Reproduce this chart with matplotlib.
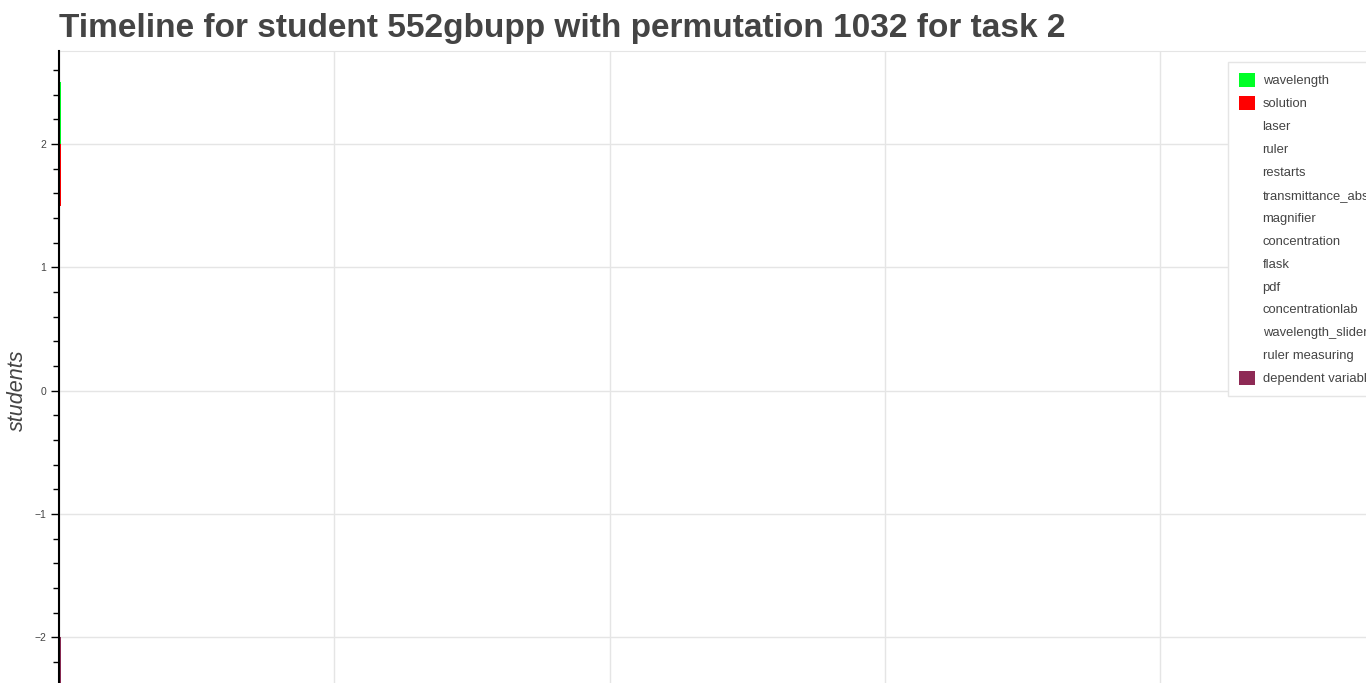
import matplotlib.pyplot as plt
from matplotlib.patches import Patch
from matplotlib.ticker import MultipleLocator

# --- data ---
bar_labels = ["wavelength", "solution", "dependent variable"]
bar_student = [2.25, 1.75, -2.25]      # y centre of each bar
bar_start = [0.0, 0.0, 0.0]
bar_length = [0.006, 0.006, 0.006]
bar_height = [0.5, 0.5, 0.5]

legend_labels = ["wavelength", "solution", "laser", "ruler", "restarts",
                 "transmittance_absorbance", "magnifier", "concentration",
                 "flask", "pdf", "concentrationlab", "wavelength_slider",
                 "ruler measuring", "dependent variable"]
legend_colors = ["#00ff26", "#ff0000", "white", "white", "white", "white",
                 "white", "white", "white", "white", "white", "white",
                 "white", "#8e2a55"]
color_of = dict(zip(legend_labels, legend_colors))

plt.rcParams['font.family'] = ['Liberation Sans', 'DejaVu Sans']

W, H = 1366, 683
fig = plt.figure(figsize=(W / 100, H / 100), dpi=100)

# axes run past the right and bottom edge, like the cropped original
px_unit_y = 123.3
px_unit_x = 275.3
y_top, y_bot = 2.754, -2.6
left_px, top_px = 59, 51
height_px = (y_top - y_bot) * px_unit_y
ax = fig.add_axes([left_px / W, (H - top_px - height_px) / H,
                   5 * px_unit_x / W, height_px / H])

for lab, y, x0, w, h in zip(bar_labels, bar_student, bar_start, bar_length, bar_height):
    ax.barh(y, w, left=x0, height=h, color=color_of[lab], edgecolor='none', zorder=3)

ax.set_xlim(0, 5)
ax.set_ylim(y_bot, y_top)
ax.yaxis.set_major_locator(MultipleLocator(1))
ax.yaxis.set_minor_locator(MultipleLocator(0.2))
ax.xaxis.set_major_locator(MultipleLocator(1))
ax.tick_params(axis='y', which='major', length=6, width=1, labelsize=7.5,
               labelcolor='#444444', pad=3)
ax.tick_params(axis='y', which='minor', length=4, width=1)
ax.tick_params(axis='x', which='both', length=0, labelbottom=False)
ax.grid(True, color='#e5e5e5', linewidth=1, zorder=0)

for side in ['right', 'bottom']:
    ax.spines[side].set_visible(False)
ax.spines['top'].set_color('#e5e5e5')
ax.spines['left'].set_color('black')
ax.spines['left'].set_linewidth(1.5)
ax.spines['left'].set_zorder(4)

# y axis label placed by hand
fig.text(17 / W, 1 - 390 / H, 'students', rotation=90, fontsize=15.5, style='italic',
         color='#444444', ha='center', va='center')

fig.text(left_px / W, 1 - 28 / H, 'Timeline for student 552gbupp with permutation 1032 for task 2',
         fontsize=24, fontweight='bold', color='#444444', va='center', ha='left')

handles = [Patch(facecolor=c, edgecolor='none') for c in legend_colors]
leg = ax.legend(handles, legend_labels, loc='upper left',
                bbox_to_anchor=(1228 / W, 1 - 62 / H), bbox_transform=fig.transFigure,
                fontsize=9.4, frameon=True, fancybox=False, framealpha=1,
                edgecolor='#e5e5e5', handlelength=1.25, handleheight=1.25,
                handletextpad=0.55, labelspacing=0.66, borderpad=0.85,
                borderaxespad=0)
leg.get_frame().set_linewidth(1)
for t in leg.get_texts():
    t.set_color('#444444')

fig.savefig('out.png', dpi=100)
